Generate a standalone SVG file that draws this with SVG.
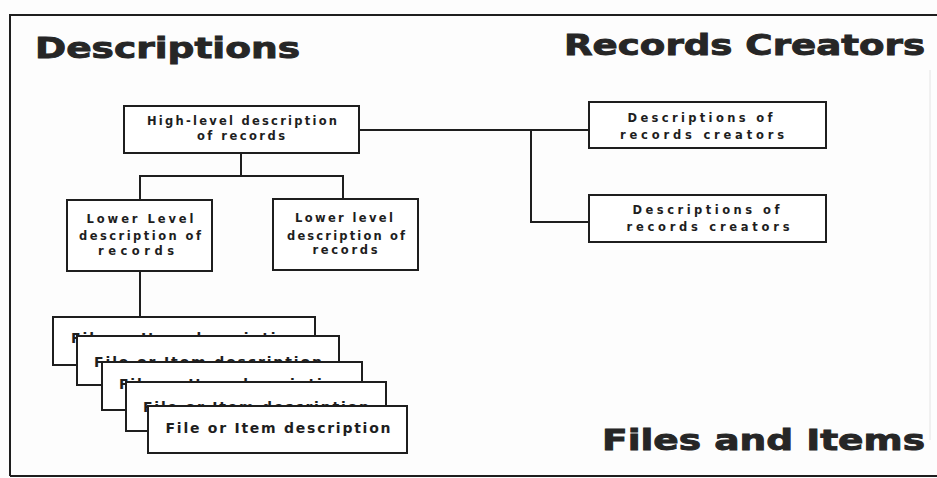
<svg xmlns="http://www.w3.org/2000/svg" width="937" height="478" viewBox="0 0 937 478">
<style>
.bg{fill:#fdfdfd}
.frame{fill:none;stroke:#1e1e1e;stroke-width:2}
.box{fill:#ffffff;stroke:#1e1e1e;stroke-width:2}
.conn{fill:none;stroke:#1e1e1e;stroke-width:2}
.head{font-family:"DejaVu Sans","Liberation Sans",sans-serif;font-weight:bold;font-size:29px;fill:#262626;stroke:#262626;stroke-width:0.9}
.lbl{font-family:"DejaVu Sans","Liberation Sans",sans-serif;font-weight:bold;font-size:11.5px;fill:#1e1e1e;text-anchor:middle}
.file{font-family:"DejaVu Sans","Liberation Sans",sans-serif;font-weight:bold;font-size:14px;fill:#1e1e1e;text-anchor:middle}
</style>
<rect class="bg" x="0" y="0" width="937" height="478"/>
<path class="frame" d="M10,476 V15 H937"/>
<path d="M10,476 H937" fill="none" stroke="#1e1e1e" stroke-width="2"/>
<path d="M930,70 V440" fill="none" stroke="#e4e4e4" stroke-width="1"/>

<g id="title-descriptions"><text class="head" x="35" y="58" textLength="265" lengthAdjust="spacingAndGlyphs">Descriptions</text></g>
<g id="title-records-creators"><text class="head" x="564" y="55" textLength="361" lengthAdjust="spacingAndGlyphs">Records Creators</text></g>
<g id="title-files-items"><text class="head" x="602" y="450" textLength="323" lengthAdjust="spacingAndGlyphs">Files and Items</text></g>

<g id="connectors">
<path class="conn" d="M359,130 H589"/>
<path class="conn" d="M531,130 V222 H589"/>
<path class="conn" d="M241,153 V176"/>
<path class="conn" d="M140,200 V176 H343 V199"/>
<path class="conn" d="M140,271 V317"/>
</g>

<g id="high-level">
<rect class="box" x="124" y="106" width="235" height="47"/>
<text class="lbl" x="242" y="125" textLength="190" lengthAdjust="spacing">High-level description</text>
<text class="lbl" x="241" y="140" textLength="88" lengthAdjust="spacing">of records</text>
</g>

<g id="creators-1">
<rect class="box" x="589" y="102" width="237" height="46"/>
<text class="lbl" x="700" y="122" textLength="145" lengthAdjust="spacing">Descriptions of</text>
<text class="lbl" x="702" y="139" textLength="164" lengthAdjust="spacing">records creators</text>
</g>

<g id="creators-2">
<rect class="box" x="589" y="195" width="237" height="47"/>
<text class="lbl" x="706" y="214" textLength="147" lengthAdjust="spacing">Descriptions of</text>
<text class="lbl" x="708" y="231" textLength="163" lengthAdjust="spacing">records creators</text>
</g>

<g id="lower-1">
<rect class="box" x="67" y="200" width="145" height="71"/>
<text class="lbl" x="140" y="223" textLength="107" lengthAdjust="spacing">Lower Level</text>
<text class="lbl" x="140" y="240" textLength="122" lengthAdjust="spacing">description of</text>
<text class="lbl" x="136" y="255" textLength="76" lengthAdjust="spacing">records</text>
</g>

<g id="lower-2">
<rect class="box" x="273" y="199" width="145" height="71"/>
<text class="lbl" x="344" y="222" textLength="98" lengthAdjust="spacing">Lower level</text>
<text class="lbl" x="346" y="240" textLength="118" lengthAdjust="spacing">description of</text>
<text class="lbl" x="345" y="254" textLength="65" lengthAdjust="spacing">records</text>
</g>

<g id="file-1">
<rect class="box" x="53" y="317" width="262" height="48"/>
<text class="file" x="185" y="343" textLength="228" lengthAdjust="spacing">File or Item description</text>
</g>
<g id="file-2">
<rect class="box" x="77" y="336" width="262" height="49"/>
<text class="file" x="208" y="367" textLength="228" lengthAdjust="spacing">File or Item description</text>
</g>
<g id="file-3">
<rect class="box" x="102" y="362" width="260" height="48"/>
<text class="file" x="232" y="389" textLength="226" lengthAdjust="spacing">File or Item description</text>
</g>
<g id="file-4">
<rect class="box" x="126" y="382" width="260" height="49"/>
<text class="file" x="256" y="412" textLength="226" lengthAdjust="spacing">File or Item description</text>
</g>
<g id="file-5">
<rect class="box" x="148" y="406" width="259" height="47"/>
<text class="file" x="278" y="433" textLength="225" lengthAdjust="spacing">File or Item description</text>
</g>
</svg>
